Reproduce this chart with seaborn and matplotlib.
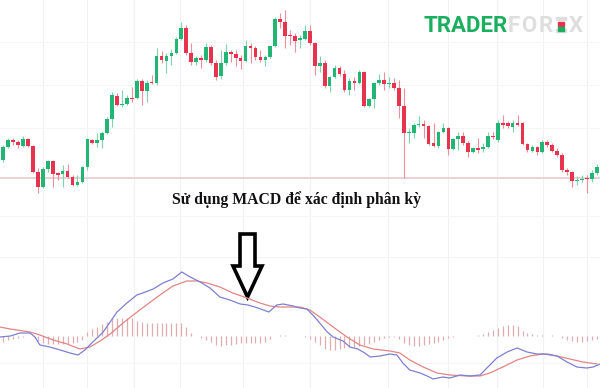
import numpy as np
import matplotlib
matplotlib.use("Agg")
import matplotlib.pyplot as plt
import seaborn as sns
from matplotlib.patches import Polygon, Rectangle

# ---------------- data (price units, arbitrary) ----------------
opens = [40, 53, 60, 58, 54, 61, 54, 28, 13, 31,
         39, 27, 26, 29, 23, 15, 18, 33, 60, 57,
         60, 67, 81, 104, 95, 96, 102, 102, 119, 109,
         118, 117, 144, 139, 144, 147, 161, 172, 147, 138,
         142, 140, 153, 137, 124, 137, 148, 146, 142, 139,
         154, 152, 143, 140, 143, 154, 181, 178, 165, 164,
         160, 161, 169, 157, 134, 137, 114, 123, 132, 126,
         110, 119, 117, 128, 94, 101, 117, 120, 116, 117,
         112, 94, 67, 67, 75, 76, 74, 57, 54, 68,
         72, 51, 61, 64, 57, 48, 52, 51, 53, 64,
         60, 77, 77, 73, 77, 77, 56, 49, 53, 48,
         58, 55, 49, 45, 30, 28, 19, 20, 22, 21,
         27]
highs = [55, 62, 62, 60, 64, 62, 55, 32, 33, 40,
         40, 28, 35, 36, 25, 25, 34, 62, 61, 67,
         69, 83, 108, 107, 110, 105, 113, 121, 121, 120,
         125, 152, 149, 147, 151, 163, 178, 175, 157, 144,
         145, 157, 155, 140, 150, 156, 150, 150, 145, 160,
         157, 154, 150, 145, 155, 183, 187, 190, 170, 167,
         165, 175, 175, 158, 144, 140, 124, 135, 134, 130,
         122, 123, 130, 129, 102, 118, 126, 128, 123, 122,
         120, 112, 72, 77, 84, 80, 75, 77, 69, 77,
         73, 62, 68, 68, 59, 53, 62, 57, 68, 68,
         80, 85, 79, 80, 85, 78, 57, 55, 54, 60,
         60, 57, 52, 47, 32, 29, 24, 25, 25, 30,
         36]
lows = [38, 52, 55, 52, 53, 53, 27, 7, 12, 28,
        13, 20, 13, 22, 14, 14, 17, 30, 56, 53,
        52, 66, 73, 94, 93, 95, 98, 101, 95, 98,
        116, 115, 137, 127, 135, 146, 160, 145, 135, 135,
        132, 138, 135, 120, 121, 135, 138, 134, 131, 138,
        137, 140, 138, 134, 142, 153, 172, 152, 155, 148,
        152, 160, 155, 125, 128, 112, 108, 122, 124, 108,
        105, 110, 116, 93, 93, 92, 115, 110, 112, 110,
        82, 22, 57, 62, 73, 62, 55, 53, 52, 67,
        45, 50, 50, 55, 43, 47, 47, 48, 52, 61,
        58, 72, 72, 68, 74, 55, 48, 48, 45, 47,
        53, 48, 43, 28, 25, 13, 15, 18, 7, 18,
        25]
closes = [53, 60, 58, 55, 61, 54, 28, 13, 31, 39,
          26, 25, 29, 23, 15, 18, 33, 61, 57, 60,
          67, 81, 105, 95, 96, 102, 101, 119, 109, 117,
          117, 144, 140, 144, 147, 161, 172, 147, 138, 142,
          140, 153, 137, 123, 137, 148, 146, 142, 139, 154,
          152, 143, 140, 143, 154, 181, 178, 164, 164, 159,
          162, 169, 157, 134, 137, 114, 123, 132, 126, 110,
          119, 117, 128, 94, 101, 117, 120, 116, 117, 112,
          94, 67, 68, 75, 76, 74, 56, 54, 68, 72,
          51, 61, 64, 57, 48, 52, 50, 53, 64, 63,
          77, 75, 74, 77, 75, 56, 50, 53, 48, 58,
          55, 49, 45, 30, 28, 19, 20, 21, 21, 27,
          33]
support_level = 22

macd_idx = [-0.7, 1.4, 3.4, 5.4, 6.4, 7.4, 9.4, 11.5, 13.5, 15.1, 16.5, 18.1, 20.2,
            21.6, 23.0, 25.0, 27.0, 28.2, 30.3, 32.3, 34.3, 36.1, 37.8, 39.8, 41.8,
            43.8, 45.8, 47.9, 49.5, 51.5, 53.7, 55.3, 56.6, 58.6, 60.0, 61.4, 62.6,
            64.0, 65.5, 66.7, 68.7, 70.1, 71.7, 73.1, 74.2, 76.2, 78.2, 79.6, 80.8,
            82.2, 84.3, 85.7, 86.9, 88.9, 90.3, 92.4, 94.4, 96.4, 97.8, 99.8, 101.9,
            103.9, 105.9, 107.9, 110.0, 112.0, 114.0, 116.0, 118.0, 119.3, 120.7]
macd_vals = [-1, 0, 3, 3, -1, -9, -11, -14, -17, -19, -14, -6, 4,
             14, 24, 33, 41, 43, 47, 53, 57, 64, 59, 54, 48,
             39, 36, 32, 31, 28, 24, 31, 32, 30, 28, 27, 21,
             13, 4, -1, -5, -11, -13, -17, -21, -20, -18, -19, -27,
             -34, -37, -40, -43, -41, -42, -39, -40, -39, -32, -22, -16,
             -12, -16, -18, -18, -20, -26, -31, -32, -31, -28]
signal_idx = [-0.7, 1.4, 5.4, 7.4, 10.1, 12.9, 15.5, 17.5, 19.6, 21.6, 24.2, 27.6,
              31.1, 34.3, 37.1, 39.2, 41.2, 43.8, 46.4, 49.3, 51.9, 53.9, 55.9, 58.0,
              60.0, 62.0, 64.0, 66.7, 69.5, 72.1, 74.8, 78.2, 80.2, 82.2, 84.9, 87.7,
              90.3, 93.8, 96.4, 98.4, 101.0, 103.9, 106.5, 109.1, 112.0, 114.6, 117.2,
              120.1]
signal_vals = [9, 7, 4, 1, -4, -8, -13, -11, -5, 2, 13, 26,
               39, 50, 55, 55, 53, 49, 43, 38, 33, 30, 29, 29,
               29, 26, 19, 9, -1, -9, -13, -15, -17, -24, -31, -37,
               -39, -40, -40, -37, -31, -24, -20, -18, -20, -23, -26,
               -28]
hist_vals = [-6, -4, -3, -2, -1, 0, 0, -5, -7, -8,
             -8, -8, -8, -8, -7, -6, -4, 4, 7, 9,
             12, 14, 18, 18, 18, 18, 18, 15, 14, 13,
             13, 13, 13, 13, 13, 13, 13, 9, 3, 0,
             -2, -4, -6, -9, -10, -9, -9, -8, -7, -7,
             -7, -7, -7, -6, -3, 0, 1, 1, 0, 0,
             0, -1, -3, -6, -9, -13, -14, -14, -13, -12,
             -11, -11, -10, -9, -8, -6, -4, -2, -1, -1,
             -3, -7, -9, -10, -10, -9, -8, -7, -6, -4,
             -2, -1, 0, 0, 0, 0, 1, 2, 4, 6,
             8, 10, 11, 11, 10, 5, 3, 2, 1, 1,
             0, 1, 0, -2, -4, -5, -6, -6, -5, -4,
             -3]

title_text = "Sử dụng MACD để xác định phân kỳ"

# ---------------- style ----------------
sns.set_theme(style="white")
plt.rcParams['font.family'] = ['DejaVu Sans']

GREEN = "#22b573"
RED = "#e8334f"
GREEN_W = "#7fd3ad"
RED_W = "#ee8e9c"

fig = plt.figure(figsize=(6, 3.88), dpi=100)
fig.patch.set_facecolor("white")

# background layer (grid, arrow, decorations) in pixel space
bg = fig.add_axes([0, 0, 1, 1])
bg.set_xlim(0, 600)
bg.set_ylim(388, 0)
bg.axis("off")
for gx in [43, 87, 134, 180, 243, 310, 388, 448, 497, 543, 587]:
    bg.axvline(gx, color="#f1f1f1", lw=0.8, zorder=0)
for gy in [42, 85, 128, 216, 257, 363]:
    bg.axhline(gy, color="#f5f5f5", lw=0.8, zorder=0)

# ---------------- candlesticks ----------------
o = np.array(opens, float)
h = np.array(highs, float)
l = np.array(lows, float)
c = np.array(closes, float)
idx = np.arange(len(o))
up = c >= o
body_col = np.where(up, GREEN, RED)
wick_col = np.where(up, GREEN_W, RED_W)

ax = fig.add_axes([0, 188 / 388, 1, 200 / 388])
ax.patch.set_alpha(0)
ax.axhline(support_level, color="#ecd0d5", lw=1.4, zorder=1)
ax.vlines(idx, l, h, colors=wick_col, lw=0.8, zorder=2)
ax.bar(idx, np.maximum(np.abs(c - o), 0.9), bottom=np.minimum(o, c),
       width=0.74, color=body_col, linewidth=0, zorder=3)
ax.set_xlim(-0.667, 120.67)
ax.set_ylim(0, 200)
ax.axis("off")

# ---------------- MACD panel ----------------
ax2 = fig.add_axes([0, 0, 1, 158 / 388])
ax2.patch.set_alpha(0)
ax2.vlines(idx, 0, hist_vals, colors="#dfacb0", lw=0.9, zorder=1)
sns.lineplot(x=signal_idx, y=signal_vals, ax=ax2, color="#e28585", lw=0.9, zorder=2)
sns.lineplot(x=macd_idx, y=macd_vals, ax=ax2, color="#7d80d2", lw=0.9, zorder=3)
ax2.set_xlim(-0.667, 120.67)
ax2.set_ylim(-52, 106)
ax2.axis("off")

# ---------------- title ----------------
fig.text(296 / 600, 1 - 200 / 388, title_text, ha="center", va="center",
         family=["Liberation Serif", "DejaVu Serif"], fontweight="bold",
         fontsize=11.3, color="#111111")

# ---------------- arrow ----------------
arrow = Polygon([(240, 234), (255, 234), (255, 266), (262, 266), (247.5, 297),
                 (233, 266), (240, 266)], closed=True, facecolor="white",
                edgecolor="black", lw=2.6, joinstyle="miter", zorder=5)
bg.add_patch(arrow)

# ---------------- watermark ----------------
wm_kw = dict(ha="left", va="baseline", family="Roboto", fontweight="bold", fontsize=16)
fig.text(424 / 600, 1 - 32 / 388, "TRADER", color="#1aae5f", **wm_kw)
for ch, px in [("F", 508), ("O", 521), ("R", 539), ("X", 569)]:
    fig.text(px / 600, 1 - 32 / 388, ch, color="#dedede", **wm_kw)
bg.add_patch(Rectangle((556, 17), 10, 3, color="#dedede", zorder=4))
bg.add_patch(Rectangle((558, 21.5), 6, 4, color="#e8334f", zorder=4))
bg.add_patch(Rectangle((558, 27), 6, 4, color="#1aae5f", zorder=4))
bg.add_patch(Rectangle((556, 29), 10, 3, color="#dedede", zorder=3))

fig.savefig("out.png", dpi=100, facecolor="white")
